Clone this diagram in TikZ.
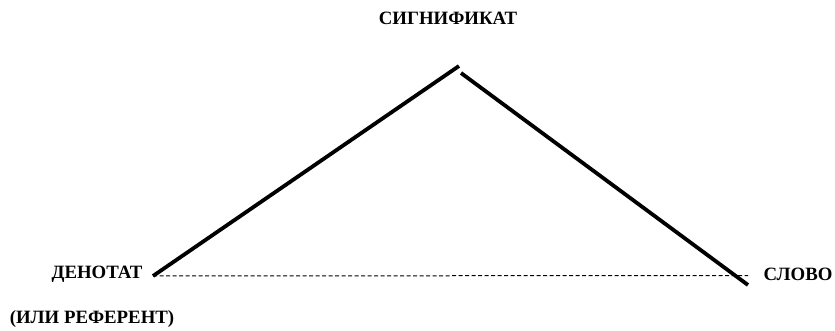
\documentclass[tikz,border=0pt]{standalone}
\usepackage{fontspec}
\setmainfont{Liberation Serif}
\usepackage{tikz}

\begin{document}
\begin{tikzpicture}[
    x=1pt, y=-1pt,
    term/.style={inner sep=0pt, font=\fontsize{18.8}{22}\selectfont\bfseries},
    side/.style={line width=3.8pt, color=black},
    base/.style={line width=1pt, dash pattern=on 4pt off 2.5pt}
]
    \useasboundingbox (0,0) rectangle (835,331);

    \node[term] (sign) at (448,18)  {СИГНИФИКАТ};
    \node[term] (den)  at (97,274)  {ДЕНОТАТ};
    \node[term] (ref)  at (92,319)  {(ИЛИ РЕФЕРЕНТ)};
    \node[term] (word) at (798,274) {СЛОВО};

    \coordinate (denEnd)  at (153,276);
    \coordinate (topL)    at (459,66);
    \coordinate (topR)    at (461,73);
    \coordinate (wordEnd) at (748,285);
    \coordinate (baseEnd) at (748,275.5);

    \draw[side] (denEnd) -- (topL);
    \draw[side] (topR) -- (wordEnd);
    \draw[base] (denEnd) -- (baseEnd);
\end{tikzpicture}
\end{document}
